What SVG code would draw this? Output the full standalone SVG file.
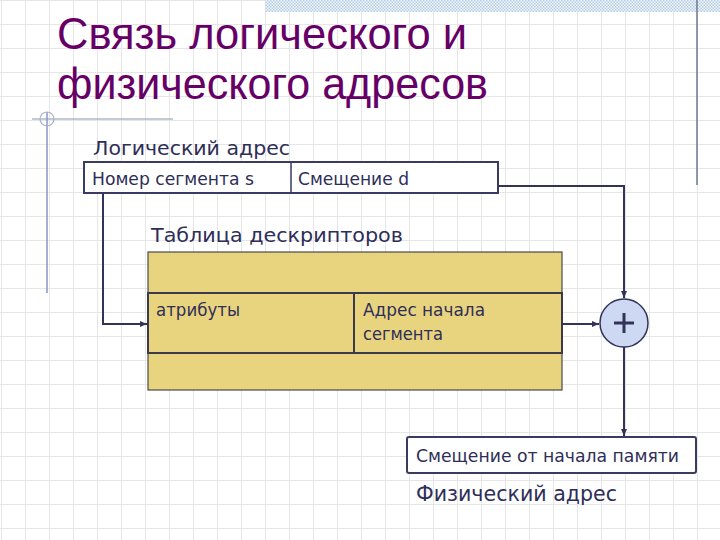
<svg xmlns="http://www.w3.org/2000/svg" width="720" height="540" viewBox="0 0 720 540">
<defs>
<pattern id="grid" x="1" y="0" width="24" height="24" patternUnits="userSpaceOnUse">
<path d="M0 0V24M0 0H24" fill="none" stroke="#e6e6e6" stroke-width="2"/>
</pattern>
<pattern id="hatch" width="3" height="3" patternUnits="userSpaceOnUse">
<rect width="3" height="3" fill="#eef4fa"/>
<rect width="1.5" height="1.5" fill="#b8d0e2"/>
<rect x="1.5" y="1.5" width="1.5" height="1.5" fill="#b8d0e2"/>
</pattern>
<marker id="arr" markerWidth="8" markerHeight="8" refX="7" refY="4" orient="auto" markerUnits="userSpaceOnUse">
<path d="M0 1L7 4L0 7Z" fill="#33335a"/>
</marker>
<style>
.t{font-family:"DejaVu Sans","Liberation Sans",sans-serif;fill:#2e2e58}
.title{font-family:"Liberation Sans","DejaVu Sans",sans-serif;font-size:44px;fill:#660066}
.box{fill:#ffffff;stroke:#3a3a62;stroke-width:2}
.cell{fill:#e8d37e;stroke:#3a3a4a;stroke-width:2}
.con{fill:none;stroke:#33335a;stroke-width:2}
</style>
</defs>
<rect width="720" height="540" fill="#ffffff"/>
<rect width="720" height="540" fill="url(#grid)"/>
<rect x="265" y="0" width="455" height="12" fill="url(#hatch)"/>
<line x1="697" y1="0" x2="697" y2="185" stroke="#6c7890" stroke-width="1.5"/>
<line x1="32" y1="119" x2="173" y2="119" stroke="#8a96b4" stroke-width="1.2"/>
<line x1="47" y1="112" x2="47" y2="293" stroke="#8a96c4" stroke-width="1.5"/>
<circle cx="47" cy="119" r="7" fill="none" stroke="#a8b0c8" stroke-width="1.2"/>

<g id="title">
<text class="title" x="57" y="49" textLength="410" lengthAdjust="spacingAndGlyphs">Связь логического и</text>
<text class="title" x="57" y="99" textLength="431" lengthAdjust="spacingAndGlyphs">физического адресов</text>
</g>

<g id="logical-address">
<text class="t" x="93" y="155" font-size="20" textLength="197" lengthAdjust="spacingAndGlyphs">Логический адрес</text>
<rect class="box" x="84" y="162" width="414" height="31"/>
<line x1="291" y1="162" x2="291" y2="193" stroke="#3a3a62" stroke-width="1.5"/>
<text class="t" x="92" y="185" font-size="18" textLength="162" lengthAdjust="spacingAndGlyphs">Номер сегмента s</text>
<text class="t" x="298" y="185" font-size="18" textLength="111" lengthAdjust="spacingAndGlyphs">Смещение d</text>
</g>

<g id="descriptor-table">
<text class="t" x="151" y="242" font-size="20" textLength="252" lengthAdjust="spacingAndGlyphs">Таблица дескрипторов</text>
<rect x="148" y="252" width="414" height="138" fill="#e8d37e" stroke="#4a4a4a" stroke-width="1.2"/>
<rect class="cell" x="148" y="293" width="206" height="60"/>
<rect class="cell" x="354" y="293" width="208" height="60"/>
<text class="t" x="156" y="316" font-size="18" textLength="84" lengthAdjust="spacingAndGlyphs">атрибуты</text>
<text class="t" x="363" y="316" font-size="18" textLength="122" lengthAdjust="spacingAndGlyphs">Адрес начала</text>
<text class="t" x="363" y="340" font-size="18" textLength="80" lengthAdjust="spacingAndGlyphs">сегмента</text>
</g>

<g id="adder">
<circle cx="624" cy="323" r="24" fill="#cdd8f2" stroke="#33335a" stroke-width="1.5"/>
<path d="M614 323H634M624 313V333" stroke="#33335a" stroke-width="3" fill="none"/>
</g>

<g id="physical-address">
<rect class="box" x="407" y="437" width="289" height="36" rx="2"/>
<text class="t" x="416" y="462" font-size="18" textLength="263" lengthAdjust="spacingAndGlyphs">Смещение от начала памяти</text>
<text class="t" x="416" y="501" font-size="21" textLength="201" lengthAdjust="spacingAndGlyphs">Физический адрес</text>
</g>

<g id="connectors">
<path class="con" d="M103 193V324H147" marker-end="url(#arr)"/>
<path class="con" d="M498 186H624V298" marker-end="url(#arr)"/>
<path class="con" d="M562 324H599" marker-end="url(#arr)"/>
<path class="con" d="M624 347V436" marker-end="url(#arr)"/>
</g>
</svg>
